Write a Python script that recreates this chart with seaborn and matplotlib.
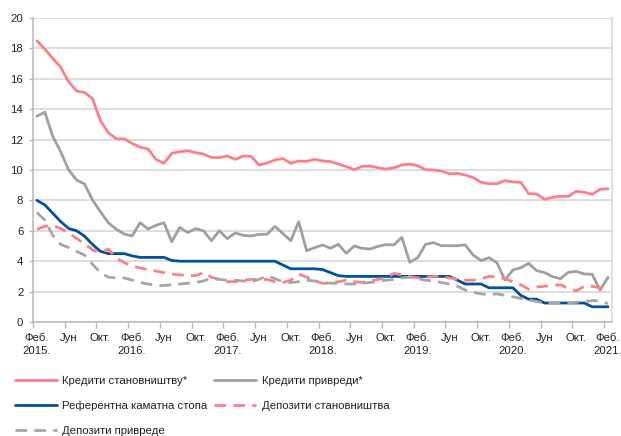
import matplotlib
matplotlib.use("Agg")
import matplotlib.pyplot as plt
import seaborn as sns
import numpy as np
import pandas as pd

# ---------------- data ----------------
months = ["Феб.", "Мар.", "Апр.", "Мај", "Јун", "Јул", "Авг.", "Сеп.", "Окт.", "Нов.", "Дец.", "Јан."]
years = ["2015.", "2016.", "2017.", "2018.", "2019.", "2020.", "2021."]

loans_households = [18.5, 17.95, 17.35, 16.75, 15.8, 15.2, 15.1, 14.7, 13.25, 12.45,
                    12.05, 12.05, 11.75, 11.5, 11.38, 10.7, 10.44, 11.1, 11.2, 11.27,
                    11.14, 11.05, 10.83, 10.81, 10.92, 10.7, 10.92, 10.9, 10.33, 10.46,
                    10.66, 10.75, 10.44, 10.59, 10.57, 10.7, 10.6, 10.55, 10.39, 10.22,
                    10.02, 10.24, 10.26, 10.15, 10.06, 10.15, 10.33, 10.39, 10.28, 10.02,
                    10.0, 9.93, 9.75, 9.78, 9.67, 9.5, 9.19, 9.1, 9.1, 9.3,
                    9.21, 9.19, 8.44, 8.42, 8.07, 8.2, 8.27, 8.27, 8.6, 8.53,
                    8.4, 8.73, 8.77]

loans_corporates = [13.55, 13.8, 12.2, 11.2, 10.0, 9.34, 9.08, 8.03, 7.26, 6.53,
                    6.1, 5.79, 5.66, 6.53, 6.12, 6.36, 6.53, 5.28, 6.23, 5.88,
                    6.14, 6.0, 5.35, 6.0, 5.48, 5.86, 5.7, 5.66, 5.77, 5.77,
                    6.29, 5.83, 5.35, 6.6, 4.69, 4.89, 5.07, 4.85, 5.11, 4.52,
                    5.0, 4.85, 4.8, 4.98, 5.09, 5.07, 5.57, 3.93, 4.23, 5.11,
                    5.22, 5.02, 5.02, 5.02, 5.07, 4.4, 4.04, 4.23, 3.9, 2.76,
                    3.42, 3.57, 3.86, 3.38, 3.25, 2.98, 2.85, 3.27, 3.33, 3.16,
                    3.14, 2.1, 2.94]

key_rate = [8.0, 7.7, 7.15, 6.6, 6.15, 6.0, 5.65, 5.1, 4.65, 4.5,
            4.5, 4.5, 4.35, 4.25, 4.25, 4.25, 4.25, 4.05, 4.0, 4.0,
            4.0, 4.0, 4.0, 4.0, 4.0, 4.0, 4.0, 4.0, 4.0, 4.0,
            4.0, 3.75, 3.5, 3.5, 3.5, 3.5, 3.45, 3.25, 3.05, 3.0,
            3.0, 3.0, 3.0, 3.0, 3.0, 3.0, 3.0, 3.0, 3.0, 3.0,
            3.0, 3.0, 3.0, 2.75, 2.5, 2.5, 2.5, 2.25, 2.25, 2.25,
            2.25, 1.75, 1.5, 1.5, 1.25, 1.25, 1.25, 1.25, 1.25, 1.25,
            1.0, 1.0, 1.0]

deposits_households = [6.1, 6.3, 6.35, 6.15, 5.85, 5.5, 5.15, 4.75, 4.55, 4.8,
                       4.2, 3.9, 3.7, 3.55, 3.45, 3.35, 3.25, 3.15, 3.1, 3.05,
                       3.05, 3.25, 2.95, 2.8, 2.65, 2.65, 2.75, 2.8, 2.8, 2.8,
                       2.65, 2.6, 2.75, 3.15, 2.95, 2.7, 2.55, 2.55, 2.65, 2.75,
                       2.65, 2.6, 2.7, 2.8, 2.9, 3.2, 3.1, 3.0, 2.9, 2.95,
                       3.0, 3.0, 2.9, 2.8, 2.75, 2.75, 2.85, 3.0, 2.95, 2.85,
                       2.65, 2.45, 2.15, 2.3, 2.35, 2.4, 2.45, 2.2, 2.05, 2.35,
                       2.35, 2.25, 2.2]

deposits_corporates = [7.2, 6.7, 5.7, 5.1, 4.9, 4.65, 4.4, 3.8, 3.25, 2.95,
                       2.9, 2.9, 2.75, 2.6, 2.5, 2.4, 2.4, 2.45, 2.5, 2.55,
                       2.6, 2.7, 2.9, 2.8, 2.75, 2.75, 2.7, 2.65, 2.8, 3.05,
                       2.85, 2.65, 2.6, 2.65, 2.75, 2.7, 2.6, 2.55, 2.55, 2.5,
                       2.5, 2.55, 2.6, 2.65, 2.75, 2.8, 2.9, 2.95, 2.85, 2.75,
                       2.7, 2.6, 2.5, 2.35, 2.1, 1.95, 1.85, 1.8, 1.85, 1.75,
                       1.65, 1.55, 1.45, 1.35, 1.25, 1.25, 1.25, 1.25, 1.3, 1.35,
                       1.4, 1.4, 1.2]

series_names = ["Кредити становништву*", "Кредити привреди*", "Референтна каматна стопа",
                "Депозити становништва", "Депозити привреде"]

# ---------------- build ----------------
n = len(key_rate)
x = np.arange(n)
tick_labels = []
for i in range(0, n, 4):
    m = months[i % 12]
    if i % 12 == 0:
        m = m + "\n" + years[i // 12]
    tick_labels.append(m)

sns.set_theme(style="white")
plt.rcParams['font.family'] = ['Liberation Sans', 'DejaVu Sans']

fig = plt.figure(figsize=(6.21, 4.36), dpi=100)
ax = fig.add_axes([33 / 621, 1 - 322 / 436, (612 - 33) / 621, (322 - 18) / 436])

pink = "#FF7F89"
gray = "#A0A0A0"
blue = "#00509A"
gray_d = "#A6A6A6"
lw = 2.0
dash = (0, (4.2, 2.6))
fs = 8.2

df = pd.DataFrame({"x": x,
                   series_names[0]: loans_households,
                   series_names[1]: loans_corporates,
                   series_names[2]: key_rate,
                   series_names[3]: deposits_households,
                   series_names[4]: deposits_corporates})

styles = [(pink, "-"), (gray, "-"), (blue, "-"), (pink, dash), (gray_d, dash)]
for name, (c, ls) in zip(series_names, styles):
    sns.lineplot(data=df, x="x", y=name, ax=ax, color=c, linewidth=lw,
                 linestyle=ls, label=name, legend=False)

ax.set_xlim(-0.5, n - 0.5)
ax.set_ylim(0, 20)
ax.set_yticks(np.arange(0, 21, 2))
ax.set_xticks(np.arange(0, n, 4))
ax.set_xticklabels(tick_labels)
ax.set_xticks(np.arange(-0.5, n, 4), minor=True)
ax.set_xlabel("")
ax.set_ylabel("")

ax.grid(axis="y", color="#D4D4D4", linewidth=1.1)
ax.grid(axis="x", visible=False)
ax.set_axisbelow(True)
for s in ["left", "bottom"]:
    ax.spines[s].set_visible(True)
    ax.spines[s].set_color("#B8B8B8")
    ax.spines[s].set_linewidth(1.1)
ax.spines["top"].set_visible(False)
ax.spines["right"].set_visible(True)
ax.spines["right"].set_color("#D9D9D9")
ax.spines["right"].set_linewidth(1.1)

ax.tick_params(axis="x", which="major", length=0, pad=8, labelsize=fs, colors="#222222")
ax.tick_params(axis="x", which="minor", length=4, width=1, color="#B8B8B8", bottom=True)
ax.tick_params(axis="y", which="major", length=3, width=1, color="#B8B8B8", left=True,
               pad=4, labelsize=fs, labelcolor="#222222")
for lab in ax.get_xticklabels():
    lab.set_linespacing(1.3)
    lab.set_verticalalignment("top")

h, l = ax.get_legend_handles_labels()
order = [0, 2, 4, 1, 3]
leg = fig.legend([h[i] for i in order], [l[i] for i in order], loc="upper left",
                 bbox_to_anchor=(15 / 621, 1 - 376 / 436), ncol=2, frameon=False,
                 fontsize=fs, handlelength=3.7, handletextpad=0.45,
                 columnspacing=0.6, labelspacing=1.3, borderpad=0, borderaxespad=0)
for t in leg.get_texts():
    t.set_color("#222222")

fig.savefig("out.png", dpi=100)
